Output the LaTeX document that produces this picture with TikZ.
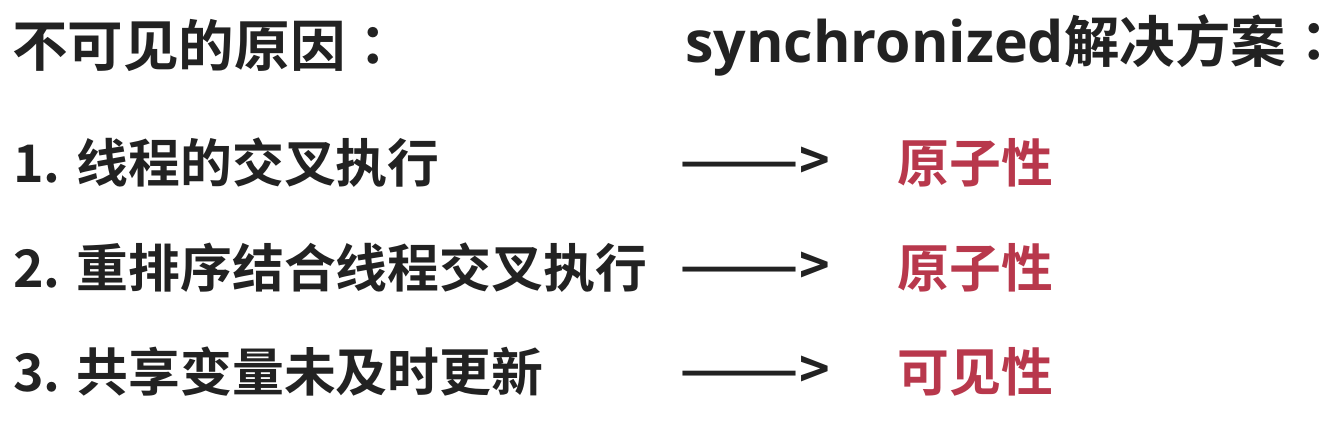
\documentclass[tikz,border=0pt]{standalone}
\usepackage{fontspec}
\usepackage{graphicx}
\setmainfont{Noto Sans CJK SC}[BoldFont={Noto Sans CJK SC Bold}]
\newfontfamily\latinfont{Open Sans}[Scale=1.03]
\newfontfamily\tcfont{Noto Sans CJK TC}[BoldFont={Noto Sans CJK TC Bold}]
\usetikzlibrary{positioning}
\definecolor{inkgray}{RGB}{34,34,34}
\definecolor{fixred}{RGB}{184,56,76}
\newcommand{\fullcolon}{{\tcfont ：}}
\newcommand{\longarrow}{\scalebox{1.36}[1]{——}>}

\begin{document}
\begin{tikzpicture}[
    txt/.style={anchor=west, inner sep=0pt, font=\fontsize{29.5}{35}\selectfont\bfseries, text=inkgray},
    head/.style={txt, font=\fontsize{31.6}{38}\selectfont\bfseries},
    fix/.style={txt, text=fixred}
  ]
    \useasboundingbox (0,0) rectangle (26.86,-8.44);
    % headings
    \node[head] (cause) at (0.24,-0.9) {不可见的原因\fullcolon};
    \node[head] (plan) at (13.7,-0.9) {{\latinfont synchronized}解决方案\fullcolon};

    % rows
    \node[txt] (rowa) at (0.26,-3.26) {1.\hspace{0.32cm}线程的交叉执行};
    \node[txt] (rowb) at (0.26,-5.36) {2.\hspace{0.32cm}重排序结合线程交叉执行};
    \node[txt] (rowc) at (0.26,-7.44) {3.\hspace{0.32cm}共享变量未及时更新};

    \node[txt] (arra) at (13.58,-3.26) {\longarrow};
    \node[txt] (arrb) at (13.58,-5.36) {\longarrow};
    \node[txt] (arrc) at (13.58,-7.44) {\longarrow};

    \node[fix] (atomica) at (17.94,-3.26) {原子性};
    \node[fix] (atomicb) at (17.94,-5.36) {原子性};
    \node[fix] (visible) at (17.94,-7.44) {可见性};
  \end{tikzpicture}
\end{document}
